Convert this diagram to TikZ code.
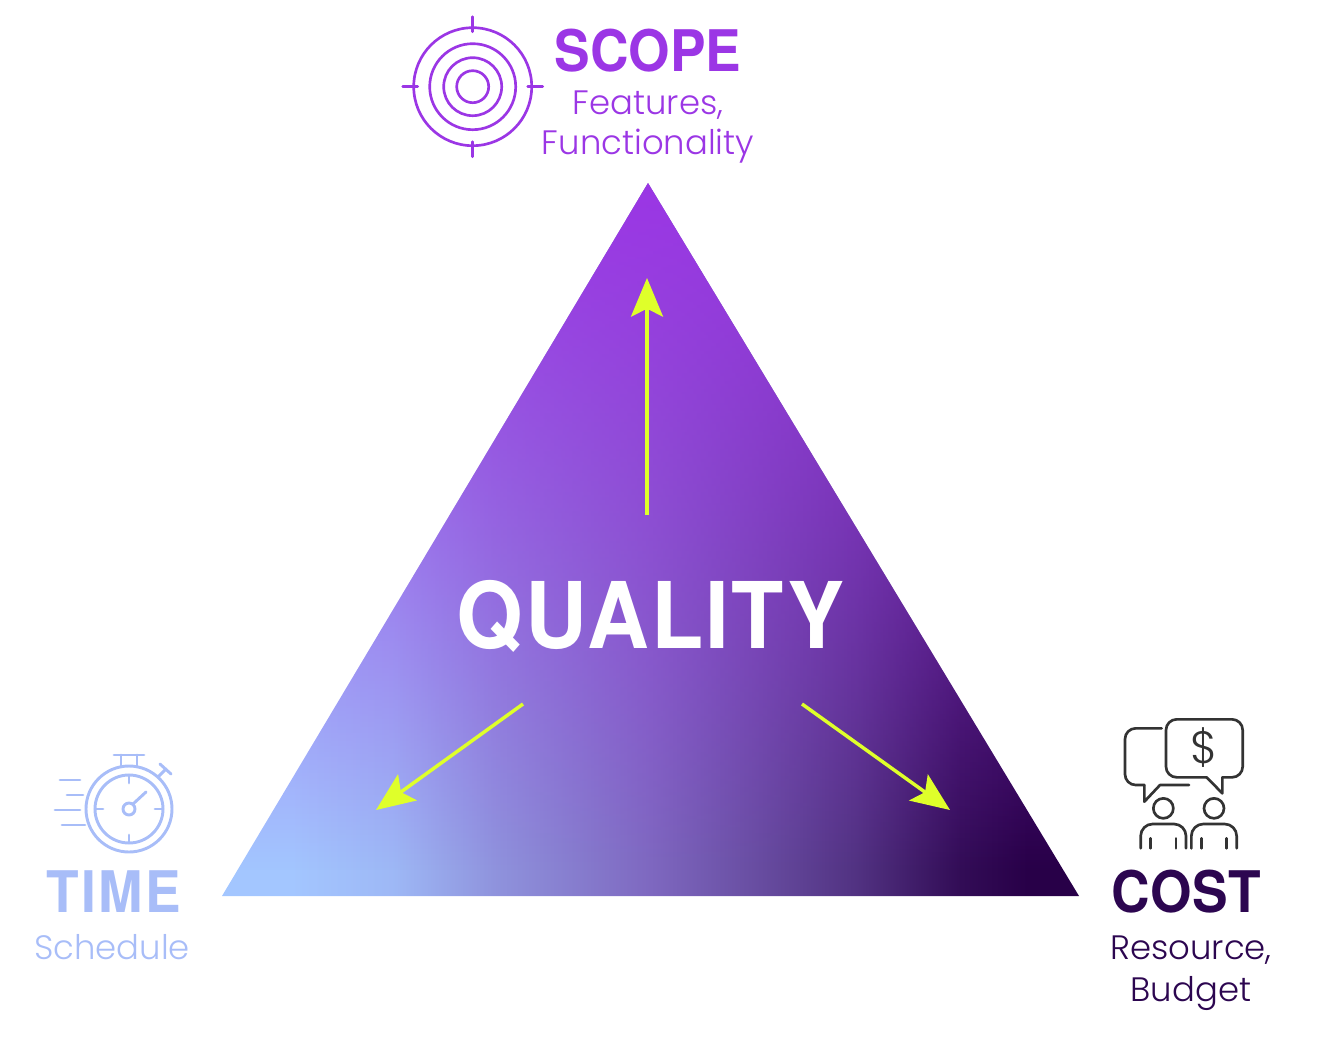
\documentclass[tikz,border=0pt]{standalone}
\usepackage{fontspec}
\setmainfont{Poppins Light}[BoldFont=Poppins]
\newfontfamily\headfont{TeX Gyre Heros}[FakeStretch=0.93]
\usetikzlibrary{arrows.meta, fadings}

\definecolor{scopecol}{HTML}{9B36E5}
\definecolor{timecol}{HTML}{A8BDF8}
\definecolor{costcol}{HTML}{2C0650}
\definecolor{arrowcol}{HTML}{DFFF2A}
\definecolor{timebase}{HTML}{A3C6FF}
\definecolor{midbase}{HTML}{7E68C0}
\definecolor{costbase}{HTML}{280048}

\pgfdeclarehorizontalshading{basegrad}{100bp}{
    color(0bp)=(timebase); color(29bp)=(timebase);
    color(35bp)=(timebase!85!midbase); color(41bp)=(timebase!45!midbase);
    color(50bp)=(midbase); color(56bp)=(midbase!75!costbase);
    color(62bp)=(midbase!48!costbase); color(68bp)=(midbase!12!costbase); color(72bp)=(costbase); color(100bp)=(costbase)}

\tikzfading[name=scopefade, top color=transparent!0, middle color=transparent!22, bottom color=transparent!100]

\begin{document}
\begin{tikzpicture}[
    x=0.75pt, y=-0.75pt,
    head/.style={font=\headfont\bfseries\fontsize{43}{43}\selectfont, anchor=base},
    sub/.style={font=\fontsize{25.4}{25.4}\selectfont, anchor=base},
    arrow/.style={draw=arrowcol, line width=2.6pt, -{Stealth[length=29pt, width=24pt, inset=6pt]}},
    icon/.style={line width=2pt, line cap=round, line join=round}
]
    \useasboundingbox (0,0) rectangle (1324,1038);

    % triangle
    \coordinate (apex) at (648,183);
    \coordinate (left) at (222,896);
    \coordinate (right) at (1079,896);
    \shade[shading=basegrad] (apex) -- (left) -- (right) -- cycle;
    \begin{scope}
        \clip (apex) -- (left) -- (right) -- cycle;
        \fill[scopecol, path fading=scopefade] (222,183) rectangle (1079,870);
    \end{scope}

    \node[font=\headfont\bfseries\fontsize{69}{69}\selectfont, white, anchor=base] (quality) at (651,648) {\addfontfeature{LetterSpace=2.6}QUALITY};

    % arrows
    \coordinate (upstart) at (647,515);
    \coordinate (upend) at (647,278);
    \coordinate (timestart) at (523,704);
    \coordinate (timeend) at (376,810);
    \coordinate (coststart) at (802,704);
    \coordinate (costend) at (950,810);
    \draw[arrow] (upstart) -- (upend);
    \draw[arrow] (timestart) -- (timeend);
    \draw[arrow] (coststart) -- (costend);

    % labels
    \node[head, text=scopecol] (scope) at (648,72) {SCOPE};
    \node[sub, text=scopecol] (features) at (648,115) {Features,};
    \node[sub, text=scopecol] (functionality) at (648,155) {Functionality};
    \node[head, text=timecol] (time) at (114,912) {\addfontfeature{LetterSpace=4.4}TIME};
    \node[sub, text=timecol] (schedule) at (112,959) {Schedule};
    \node[head, text=costcol] (cost) at (1186,912) {\addfontfeature{LetterSpace=1}COST};
    \node[sub, text=costcol] (resource) at (1191,959) {Resource,};
    \node[sub, text=costcol] (budget) at (1191,1001) {Budget};

    % target
    \begin{scope}[icon, draw=scopecol, shift={(472.7,86.7)}]
        \foreach \r in {59,43,29,16}
            \draw (0,0) circle[radius=\r];
        \draw (0,-70) -- (0,-55);
        \draw (0,55) -- (0,70);
        \draw (-70,0) -- (-55,0);
        \draw (55,0) -- (70,0);
    \end{scope}

    % stopwatch
    \begin{scope}[icon, line width=2.2pt, draw=timecol, shift={(129,809)}]
        \draw (0,0) circle[radius=43];
        \draw (0,0) circle[radius=34];
        \draw (0,0) circle[radius=6];
        \draw (4,-5) -- (17,-17);
        \draw (-8,-42) -- (-8,-54) (8,-42) -- (8,-54) (-15,-54) -- (15,-54);
        \draw (29,-32) -- (37,-40) (31,-45) -- (42,-35);
        \draw (0,-34) -- (0,-26) (0,34) -- (0,26) (-34,0) -- (-26,0) (34,0) -- (26,0);
        \draw (-69,-29) -- (-49,-29) (-62,-14) -- (-46,-14) (-74,1) -- (-49,1) (-67,16) -- (-44,16);
    \end{scope}

    % people with speech bubbles
    \begin{scope}[icon, draw=black!80, shift={(1090,700)}, x=0.25pt, y=-0.25pt]
        \draw[rounded corners=8pt] (215,85) -- (105,85) -- (105,255) -- (163,255);
        \draw (163,255) -- (163,305) -- (210,255) -- (297,255);
        \draw[rounded corners=8pt] (350,232) -- (228,232) -- (228,58) -- (458,58) -- (458,232) -- (397,232);
        \draw (350,232) -- (397,280) -- (397,232);
        \node[font=\fontsize{34}{34}\selectfont, text=black!80] (dollar) at (343,143) {\$};
        \foreach \px in {0,152} {
            \draw (220+\px,325) circle[radius=30];
            \draw[rounded corners=9pt] (152+\px,445) -- (152+\px,372) -- (288+\px,372) -- (288+\px,445);
            \draw (182+\px,415) -- (182+\px,445) (258+\px,415) -- (258+\px,445);
        }
    \end{scope}
\end{tikzpicture}
\end{document}
